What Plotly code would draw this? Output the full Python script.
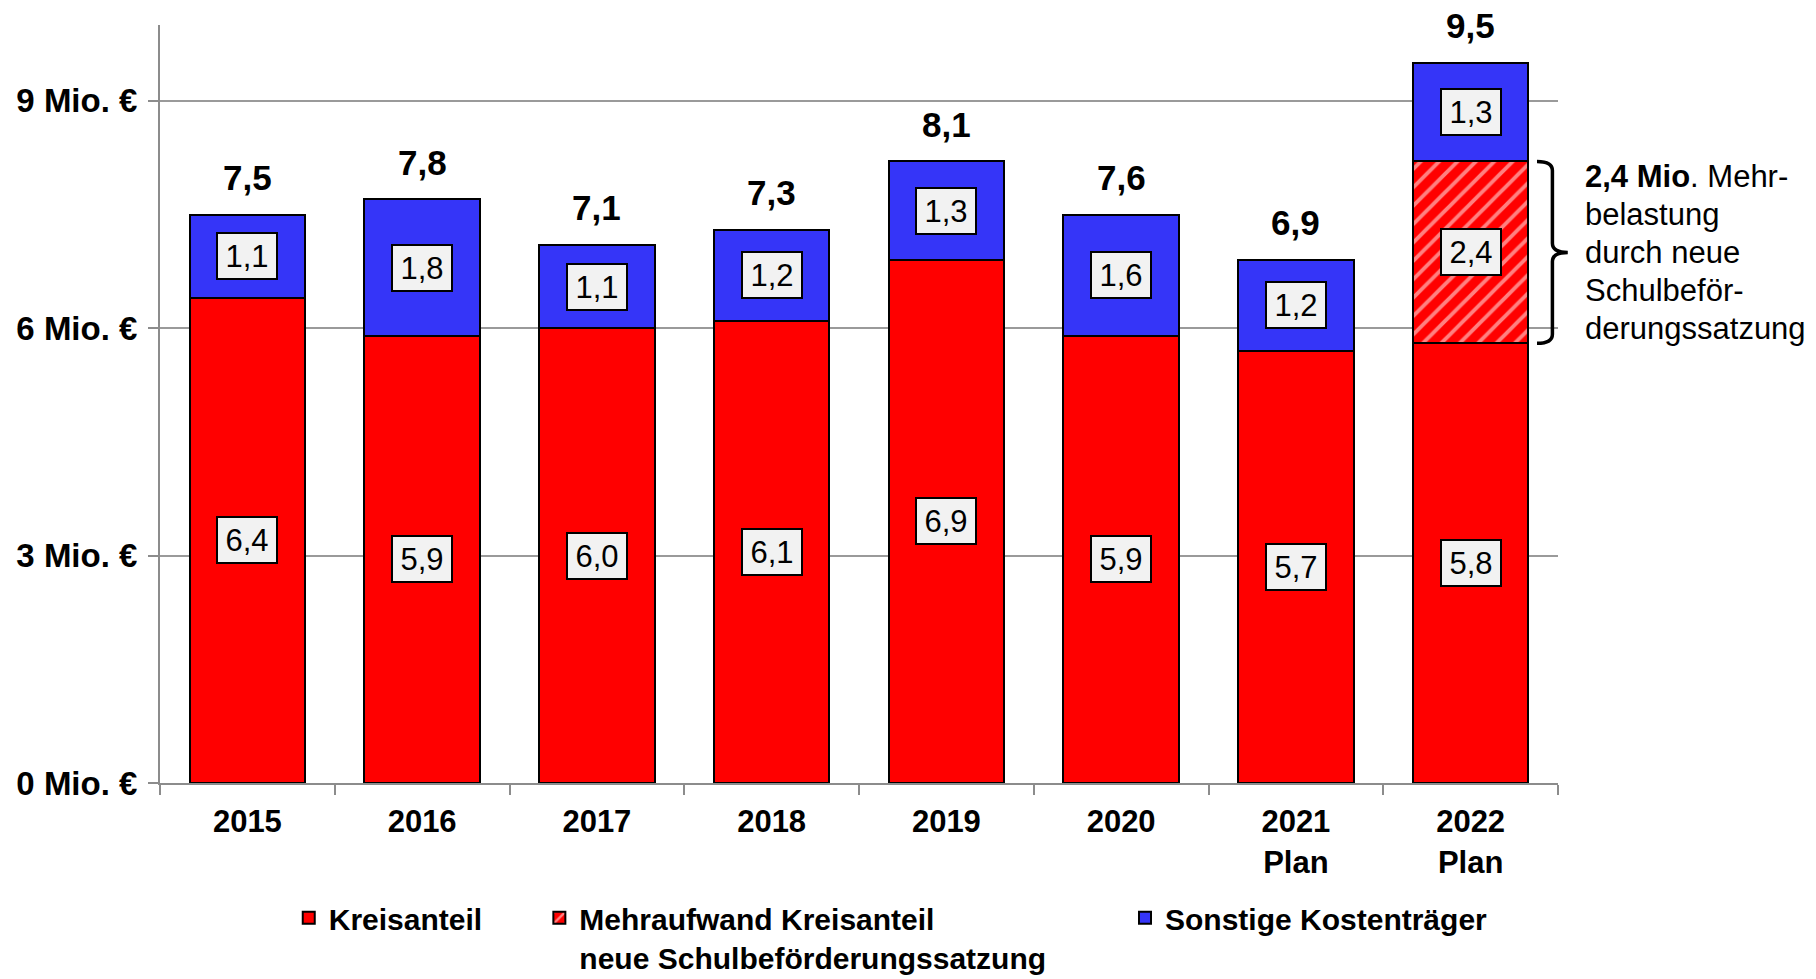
import plotly.graph_objects as go

# data (Mio. €)
years = ["2015", "2016", "2017", "2018", "2019", "2020", "2021<br>Plan", "2022<br>Plan"]
kreisanteil = [6.4, 5.9, 6.0, 6.1, 6.9, 5.9, 5.7, 5.8]
mehraufwand = [0, 0, 0, 0, 0, 0, 0, 2.4]
sonstige = [1.1, 1.8, 1.1, 1.2, 1.3, 1.6, 1.2, 1.3]
totals = [7.5, 7.8, 7.1, 7.3, 8.1, 7.6, 6.9, 9.5]
y_ticks = [0, 3, 6, 9]
y_tick_labels = ["0 Mio. €", "3 Mio. €", "6 Mio. €", "9 Mio. €"]
note_lines = ["<b>2,4 Mio</b>. Mehr-", "belastung", "durch neue", "Schulbeför-", "derungssatzung"]

FONT = "Arial, Liberation Sans, sans-serif"
RED = "#ff0000"
BLUE = "#3535f8"


def de(v):
    return f"{v:.1f}".replace(".", ",")


fig = go.Figure()

fig.add_trace(go.Bar(
    x=years, y=kreisanteil, name="Kreisanteil",
    marker=dict(color=RED, line=dict(color="black", width=2)),
    legend="legend",
))
fig.add_trace(go.Bar(
    x=years, y=mehraufwand,
    name="Mehraufwand Kreisanteil<br>neue Schulbeförderungssatzung",
    marker=dict(color=RED, line=dict(color="black", width=2),
                pattern=dict(shape="/", fgcolor="white", size=13, solidity=0.3)),
    legend="legend2",
))
fig.add_trace(go.Bar(
    x=years, y=sonstige, name="Sonstige Kostenträger",
    marker=dict(color=BLUE, line=dict(color="black", width=2)),
    legend="legend3",
))

# boxed value labels in the middle of each segment
box = dict(showarrow=False, bgcolor="#f2f2f2", bordercolor="black", borderwidth=2,
           borderpad=4, width=50, height=36,
           font=dict(family=FONT, size=31, color="black"))
for i, yr in enumerate(years):
    base = 0
    for vals in (kreisanteil, mehraufwand, sonstige):
        v = vals[i]
        if v > 0:
            fig.add_annotation(x=i, y=base + v / 2, text=de(v), **box)
        base += v
    fig.add_annotation(x=i, y=base, text=f"<b>{de(totals[i])}</b>", showarrow=False,
                       yanchor="middle", yshift=37,
                       font=dict(family=FONT, size=35, color="black"))

# curly brace next to the 2022 hatched segment
y0 = kreisanteil[-1]
y1 = kreisanteil[-1] + mehraufwand[-1]
ym = (y0 + y1) / 2
xa, xb, xc = 0.985, 0.996, 1.007
d = 0.12
path = (f"M {xa},{y1} Q {xb},{y1} {xb},{y1 - d} L {xb},{ym + d} Q {xb},{ym} {xc},{ym} "
        f"Q {xb},{ym} {xb},{ym - d} L {xb},{y0 + d} Q {xb},{y0} {xa},{y0}")
fig.add_shape(type="path", path=path, xref="paper", yref="y",
              line=dict(color="black", width=3.5))
mid = (len(note_lines) - 1) / 2
for k, line in enumerate(note_lines):
    fig.add_annotation(xref="paper", yref="y", x=1.018, y=ym, xanchor="left", yanchor="middle",
                       yshift=(mid - k) * 38, showarrow=False, text=line,
                       font=dict(family=FONT, size=31, color="black"))

legend_common = dict(orientation="h", xref="container", yref="container",
                     yanchor="top", y=0.089, valign="top",
                     font=dict(family=FONT, size=30, color="black", weight="bold"),
                     bgcolor="rgba(0,0,0,0)", itemwidth=30, traceorder="normal")

fig.update_layout(
    barmode="stack",
    bargap=0.34,
    width=1816, height=979,
    margin=dict(l=160, r=258, t=25, b=196, autoexpand=False),
    plot_bgcolor="white",
    paper_bgcolor="white",
    font=dict(family=FONT, color="black"),
    showlegend=True,
    legend=dict(x=0.159, **legend_common),
    legend2=dict(x=0.297, **legend_common),
    legend3=dict(x=0.6195, **legend_common),
    xaxis=dict(
        type="category", categoryorder="array", categoryarray=years,
        range=[-0.5, len(years) - 0.5], tickangle=0,
        showline=True, linecolor="#8c8c8c", linewidth=2,
        ticks="outside", tickson="boundaries", ticklen=10, tickcolor="#8c8c8c", tickwidth=2,
        ticklabelstandoff=10,
        tickfont=dict(family=FONT, size=31, color="black", weight="bold"),
    ),
    yaxis=dict(
        range=[0, 10], tickvals=y_ticks, ticktext=y_tick_labels,
        showline=True, linecolor="#8c8c8c", linewidth=2,
        showgrid=True, gridcolor="#9a9a9a", gridwidth=2,
        ticks="outside", ticklen=10, tickcolor="#8c8c8c", tickwidth=2,
        ticklabelstandoff=4,
        tickfont=dict(family=FONT, size=33, color="black", weight="bold"),
        zeroline=False,
    ),
)

# drop the page's default body margin so the 1816x979 figure fills the window
fig.write_html("out.html", config={"displayModeBar": False},
               post_script="document.body.style.margin='0';")
